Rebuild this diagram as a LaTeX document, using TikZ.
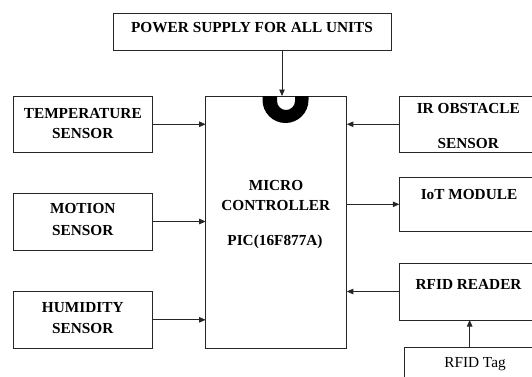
\documentclass[tikz,border=0pt]{standalone}
\usepackage{fontspec}
\setmainfont{Liberation Serif}
\usetikzlibrary{arrows.meta}
\begin{document}
\begin{tikzpicture}[x=1pt,y=-1pt,
  box/.style={draw=black!85,line width=0.8pt,inner sep=0pt,outer sep=0pt,rectangle},
  lbl/.style={anchor=base,inner sep=0pt,font=\fontsize{15.3}{18}\selectfont\bfseries},
  lblr/.style={anchor=base,inner sep=0pt,font=\fontsize{15.3}{18}\selectfont},
  arr/.style={draw=black!85,line width=0.8pt,-{Triangle[length=6.5pt,width=5.5pt]}}]
\clip (0,0) rectangle (532,376);
% boxes
\node[box,minimum width=277.7pt,minimum height=36.5pt] (power) at (252.2,31.75) {};
\node[box,minimum width=141.2pt,minimum height=252pt] (mc) at (276.2,222) {};
\node[box,minimum width=139.8pt,minimum height=56.5pt] (temp) at (82.8,124.25) {};
\node[box,minimum width=139.8pt,minimum height=57pt] (motion) at (82.8,221.5) {};
\node[box,minimum width=139.8pt,minimum height=57pt] (humid) at (82.8,319.8) {};
\node[box,minimum width=140.7pt,minimum height=56.5pt] (ir) at (469.65,124.25) {};
\node[box,minimum width=140.7pt,minimum height=54.6pt] (iot) at (469.65,204.3) {};
\node[box,minimum width=140.7pt,minimum height=57pt] (reader) at (469.65,291.5) {};
\node[box,minimum width=140.5pt,minimum height=52.5pt] (tag) at (474.75,373.75) {};
% chip notch
\fill[black,even odd rule]
  (262.5,96) -- (262.5,100) arc[start angle=180,end angle=360,radius=23pt] -- (308.5,96) -- cycle
  (277,96) -- (277,101) arc[start angle=180,end angle=360,radius=9pt] -- (295,96) -- cycle;
% texts
\node[lbl] (tpower) at (252,32.5) {POWER SUPPLY FOR ALL UNITS};
\node[lbl] (tmc1) at (276,190) {MICRO};
\node[lbl] (tmc2) at (275.8,210) {CONTROLLER};
\node[lbl] (tmc3) at (275,245) {PIC(16F877A)};
\node[lbl] (ttemp1) at (82.8,118) {TEMPERATURE};
\node[lbl] (ttemp2) at (82.8,138.4) {SENSOR};
\node[lbl] (tmot1) at (82.8,213.8) {MOTION};
\node[lbl] (tmot2) at (82.8,235.2) {SENSOR};
\node[lbl] (thum1) at (82.8,312.2) {HUMIDITY};
\node[lbl] (thum2) at (82.8,333.3) {SENSOR};
\node[lbl] (tir1) at (468.3,113.5) {IR OBSTACLE};
\begin{scope}
\clip (399,130) rectangle (532,147.5);
\node[lbl] (tir2) at (468.3,148) {SENSOR};
\end{scope}
\node[lbl] (tiot) at (469,199) {IoT MODULE};
\node[lbl] (treader) at (468.6,289) {RFID READER};
\node[lblr] (ttag) at (475,367.8) {RFID Tag};
% connectors
\coordinate (pin) at (282,0);
\draw[arr] (power.south -| pin) -- (mc.north -| pin);
\draw[arr] (temp.east) -- (temp.east -| mc.west);
\draw[arr] (motion.east) -- (motion.east -| mc.west);
\draw[arr] (humid.east) -- (humid.east -| mc.west);
\draw[arr] (ir.west) -- (ir.west -| mc.east);
\draw[arr] (iot.west -| mc.east) -- (iot.west);
\draw[arr] (reader.west) -- (reader.west -| mc.east);
\draw[arr] (tag.north -| reader.south) -- (reader.south);
\end{tikzpicture}
\end{document}
